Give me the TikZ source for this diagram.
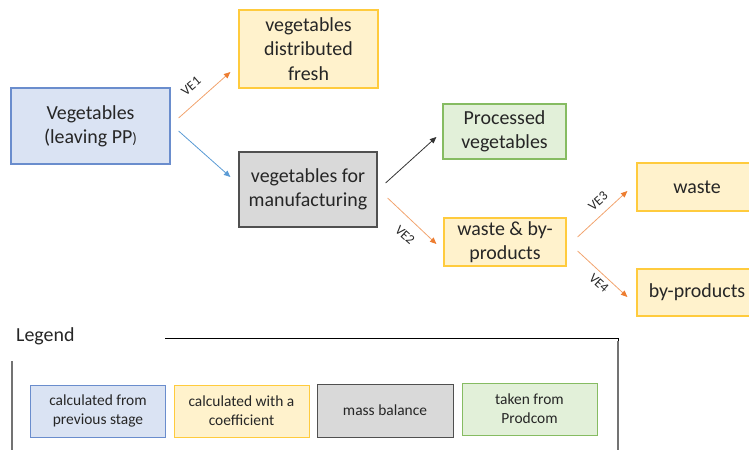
\documentclass[tikz,border=0pt]{standalone}
\usepackage{fontspec}
\setmainfont{Carlito}
\usetikzlibrary{arrows.meta,calc}
\definecolor{bfill}{HTML}{DAE3F3}
\definecolor{bline}{HTML}{6A8DCD}
\definecolor{yfill}{HTML}{FFF2CC}
\definecolor{yline}{HTML}{FFCB3D}
\definecolor{gfill}{HTML}{D9D9D9}
\definecolor{gline}{HTML}{505050}
\definecolor{grfill}{HTML}{E2F0D9}
\definecolor{grline}{HTML}{86BC62}
\definecolor{orarrow}{HTML}{ED7D31}
\definecolor{blarrow}{HTML}{5B9BD5}
\definecolor{txt}{HTML}{262626}
\tikzset{
  box/.style={draw, line width=1.2bp, align=center, inner sep=0pt, text=txt,
    font=\fontsize{20}{24.4}\selectfont},
  bluebox/.style={box, fill=bfill, draw=bline},
  yelbox/.style={box, fill=yfill, draw=yline},
  graybox/.style={box, fill=gfill, draw=gline},
  grnbox/.style={box, fill=grfill, draw=grline},
  legbox/.style={font=\fontsize{15.5}{19}\selectfont, minimum width=134bp, minimum height=52bp},
  conn/.style={line width=0.8bp, -{Triangle[length=6.5bp,width=5.5bp]}},
  orconn/.style={line width=0.8bp, draw=orarrow!70, -{Triangle[length=6.5bp,width=5.5bp,color=orarrow]}},
  blconn/.style={conn, draw=blarrow},
  bkconn/.style={conn, draw=black!80},
  velabel/.style={font=\fontsize{13.5}{15}\selectfont, text=txt, inner sep=0pt},
}
\begin{document}
\begin{tikzpicture}[x=1bp,y=-1bp]
\useasboundingbox (0,0) rectangle (749,450);
\clip (0,0) rectangle (749,450);
% main nodes
\node[bluebox, minimum width=159bp, minimum height=76bp] (veg) at (90.5,126) {Vegetables\\(leaving PP{\fontsize{15}{15}\selectfont)}};
\node[yelbox, minimum width=139bp, minimum height=78bp] (fresh) at (308.5,49) {vegetables\\distributed\\fresh};
\node[graybox, minimum width=138bp, minimum height=75bp] (manuf) at (308,189.5) {vegetables for\\manufacturing};
\node[grnbox, minimum width=123bp, minimum height=55bp] (proc) at (504.5,131.5) {Processed\\vegetables};
\node[yelbox, minimum width=122bp, minimum height=48bp] (wbp) at (505,242) {waste \& by-\\products};
\node[yelbox, minimum width=120bp, minimum height=48bp] (waste) at (697,187) {waste};
\node[yelbox, minimum width=120bp, minimum height=47bp] (byp) at (697,292.5) {by-products};
% connectors
\draw[orconn] ($(veg.east)+(8,-8)$) -- ($(fresh.west)+(-8,23)$);
\draw[blconn] ($(veg.east)+(8,5)$) -- ($(manuf.west)+(-8,-12.5)$);
\draw[bkconn] ($(manuf.east)+(8,-6.5)$) -- ($(proc.west)+(-6,5.5)$);
\draw[orconn] ($(manuf.east)+(10,8.5)$) -- ($(wbp.west)+(-7,2)$);
\draw[orconn] ($(wbp.east)+(11,-5)$) -- ($(waste.west)+(-9,4)$);
\draw[orconn] ($(wbp.east)+(11,9)$) -- ($(byp.west)+(-9,4.5)$);
% labels
\node[velabel, rotate=41] (l1) at (191,86) {VE1};
\node[velabel, rotate=-42] (l2) at (405,235) {VE2};
\node[velabel, rotate=42] (l3) at (598,201) {VE3};
\node[velabel, rotate=-42] (l4) at (599,283) {VE4};
% legend
\node[anchor=west, inner sep=0pt, text=txt, font=\fontsize{20}{24}\selectfont] (leg) at (16,336) {Legend};
\draw[line width=1bp, black] (165,339) -- (618,339) -- (618,452);
\draw[line width=1.5bp, black!55] (618,341) -- (618,452);
\draw[line width=1.5bp, black!55] (12,361) -- (12,452);
\node[bluebox, legbox, line width=1bp] (lb1) at (98,411) {calculated from\\previous stage};
\node[yelbox, legbox, line width=1bp, minimum width=135bp] (lb2) at (241.5,411) {calculated with a\\coefficient};
\node[graybox, legbox, line width=1bp, minimum width=136bp, minimum height=53bp] (lb3) at (385,410.5) {mass balance};
\node[grnbox, legbox, line width=1bp, minimum width=135bp] (lb4) at (529.5,409) {taken from\\Prodcom};
\end{tikzpicture}
\end{document}
